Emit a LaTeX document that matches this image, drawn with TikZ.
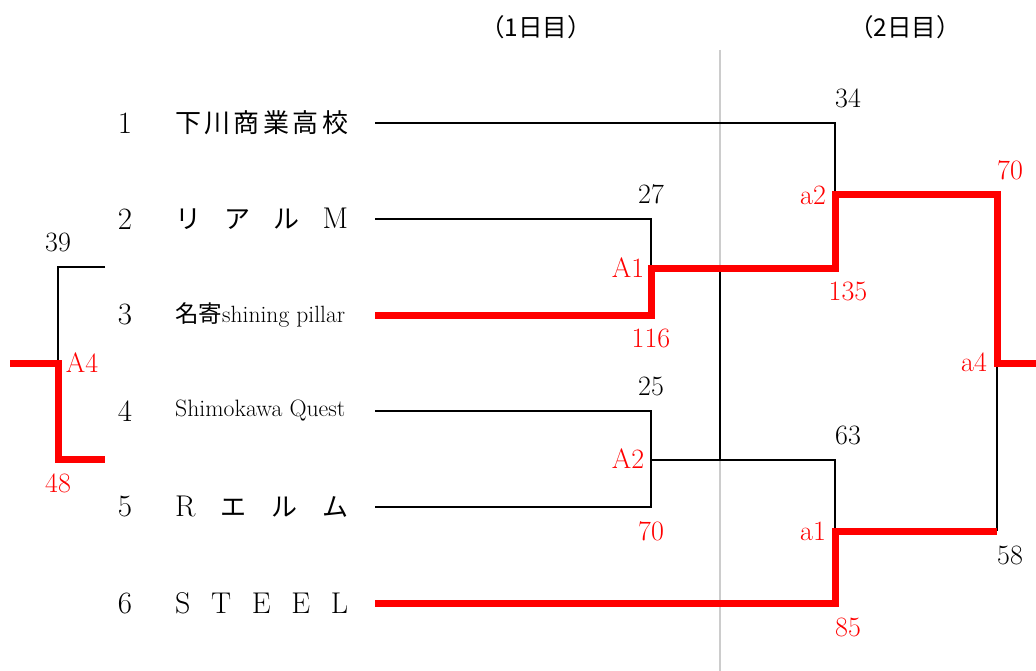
\documentclass[tikz,border=0pt]{standalone}
\usepackage{fontspec}
\newfontfamily\jpfont{Noto Sans CJK JP}
\usepackage{xcolor}
\definecolor{Win Red}{HTML}{ff0000}
\definecolor{Day Rule}{HTML}{cccccc}
\colorlet{cRed}{Win Red}
\colorlet{cGray}{Day Rule}
\usepackage{tikz}
\usetikzlibrary{positioning}
\tikzset{
	x=1pt, y=-1pt,
	font=\fontsize{28}{32}\selectfont,
	seed/.style={
		inner sep=0pt,
		font=\fontsize{31}{35}\selectfont
	},
	team/.style={
		anchor=west,
		inner sep=0pt,
		font=\fontsize{30}{34}\selectfont
	},
	score/.style={
		inner sep=0pt
	},
	wscore/.style={
		score,
		text=cRed
	},
	loss/.style={
		draw=black,
		line width=2pt
	},
	win/.style={
		draw=cRed,
		line width=7pt
	}
}
\newcommand{\spread}[1]{\makebox[173pt][s]{#1}}

\begin{document}
\begin{tikzpicture}
		\useasboundingbox (0,0) rectangle (1036,671);

		\node[score, font=\jpfont\fontsize{24.5}{28}\selectfont] (day1) at (536,27) {（1日目）};
		\node[score, font=\jpfont\fontsize{24.5}{28}\selectfont] (day2) at (905,27) {（2日目）};

		\node[seed] (n1) at (125,123) {1};
		\node[seed] (n2) at (125,219) {2};
		\node[seed] (n3) at (125,315) {3};
		\node[seed] (n4) at (125,411) {4};
		\node[seed] (n5) at (125,507) {5};
		\node[seed] (n6) at (125,603) {6};

		\node[team] (t1) at (175,123) {\spread{\jpfont\fontsize{26}{30}\selectfont 下\hfill 川\hfill 商\hfill 業\hfill 高\hfill 校}};
		\node[team] (t2) at (175,219) {\spread{{\jpfont\fontsize{26}{30}\selectfont リ}\hfill{\jpfont\fontsize{26}{30}\selectfont ア}\hfill{\jpfont\fontsize{26}{30}\selectfont ル}\hfill M}};
		\node[team] (t3) at (175,315) {\resizebox{170pt}{!}{\fontsize{19}{22}\selectfont{\jpfont 名寄}shining pillar}};
		\node[team] (t4) at (175,411) {\resizebox{170pt}{!}{\fontsize{19}{22}\selectfont Shimokawa Quest}};
		\node[team] (t5) at (175,507) {\spread{R\hfill{\jpfont\fontsize{26}{30}\selectfont エ}\hfill{\jpfont\fontsize{26}{30}\selectfont ル}\hfill{\jpfont\fontsize{26}{30}\selectfont ム}}};
		\node[team] (t6) at (175,603) {\spread{S\hfill T\hfill E\hfill E\hfill L}};

		% line ends
		\coordinate (e1) at (375,123);
		\coordinate (e2) at (375,219);
		\coordinate (e3) at (375,315);
		\coordinate (e4) at (375,411);
		\coordinate (e5) at (375,507);
		\coordinate (e6) at (375,603);
		\coordinate (A1) at (651,268);
		\coordinate (A2) at (651,460);
		\coordinate (a1) at (835,531);
		\coordinate (a2) at (835,195);
		\coordinate (a4) at (997,363);
		\coordinate (b4) at (997,531);
		\coordinate (fin) at (1036,363);
		\coordinate (m1) at (720,268);
		\coordinate (m2) at (720,460);
		\coordinate (g1) at (720,50);
		\coordinate (g2) at (720,671);
		\coordinate (l1) at (105,267);
		\coordinate (l2) at (105,459);
		\coordinate (A4) at (58,363);
		\coordinate (lout) at (10,363);

		\draw[draw=cGray, line width=1.5pt] (g1) -- (g2);

		\draw[loss] (e1) -| (a2);
		\draw[loss] (e2) -| (A1);
		\draw[loss] (e4) -| (A2) |- (e5);
		\draw[loss] (A2) -| (a1);
		\draw[loss] (m1) -- (m2);
		\draw[loss] (b4) -- (a4);
		\draw[loss] (l1) -| (A4);

		\draw[win] (e3) -| (A1) -| (a2) -| (a4) -- (fin);
		\draw[win] (e6) -| (a1) -- (b4);
		\draw[win] (lout) -- (A4) |- (l2);

		\node[score] at (848,98) {34};
		\node[score] at (651,194) {27};
		\node[wscore] at (651,338) {116};
		\node[wscore] at (628,268) {A1};
		\node[wscore] at (813,195) {a2};
		\node[wscore] at (848,291) {135};
		\node[wscore] at (1010,170) {70};
		\node[wscore] at (974,362) {a4};
		\node[score] at (651,386) {25};
		\node[wscore] at (628,459) {A2};
		\node[wscore] at (651,531) {70};
		\node[score] at (848,435) {63};
		\node[wscore] at (813,531) {a1};
		\node[score] at (1010,555) {58};
		\node[wscore] at (848,627) {85};
		\node[score] at (58,242) {39};
		\node[wscore] at (82,363) {A4};
		\node[wscore] at (58,483) {48};
	\end{tikzpicture}
\end{document}
